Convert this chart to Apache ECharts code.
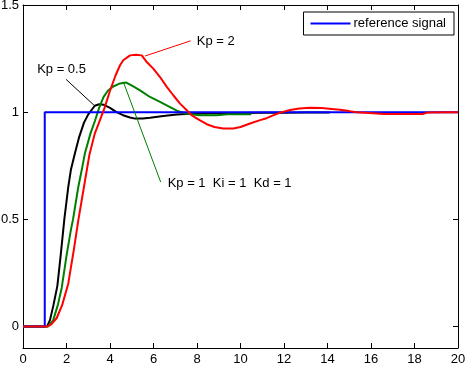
<!DOCTYPE html>
<html><head><meta charset="utf-8">
<script src="https://cdn.jsdelivr.net/npm/echarts@6/dist/echarts.min.js"></script>
<style>html,body{margin:0;padding:0;background:#fff}#c{width:466px;height:366px}</style>
</head><body><div id="c"></div>
<script>
// ---- data ----
const xTicks = [0, 2, 4, 6, 8, 10, 12, 14, 16, 18, 20];
const yTicks = [0, 0.5, 1, 1.5];

const refT = [0, 1, 1, 20];
const refY = [0, 0, 1, 1];

const kp05T = [0, 1, 1.1, 1.24, 1.4, 1.58, 1.73, 1.9, 2.08, 2.2, 2.39, 2.57, 2.8, 3.0, 3.3, 3.5, 3.7, 4.0, 4.3, 4.6, 4.92, 5.15, 5.5, 5.84, 6.45, 7.07, 7.68, 8.3, 9, 10, 11, 12, 13, 14.1];
const kp05Y = [0, 0, 0, 0.03, 0.1, 0.19, 0.33, 0.5, 0.65, 0.73, 0.81, 0.88, 0.95, 0.99, 1.03, 1.037, 1.035, 1.02, 1.0, 0.986, 0.975, 0.97, 0.971, 0.974, 0.982, 0.989, 0.993, 0.994, 0.995, 0.996, 0.997, 0.997, 0.998, 0.998];

const pidT = [0, 1, 1.15, 1.39, 1.6, 1.78, 2.0, 2.2, 2.3, 2.54, 2.7, 2.85, 3.1, 3.31, 3.5, 3.7, 3.9, 4.15, 4.46, 4.75, 5.07, 5.38, 5.84, 6.3, 6.76, 7.14, 7.53, 8.14, 8.9, 9.4, 10.0, 10.5];
const pidY = [0, 0, 0, 0.03, 0.1, 0.18, 0.33, 0.45, 0.5, 0.65, 0.73, 0.81, 0.9, 0.96, 1.02, 1.07, 1.1, 1.12, 1.134, 1.138, 1.12, 1.102, 1.071, 1.048, 1.024, 1.004, 0.993, 0.986, 0.986, 0.99, 0.99, 0.99];

const kp2T = [0, 1, 1.1, 1.3, 1.55, 1.8, 2.08, 2.34, 2.55, 2.8, 3.05, 3.3, 3.49, 3.75, 4.0, 4.25, 4.46, 4.61, 4.92, 5.2, 5.46, 5.69, 5.99, 6.3, 6.61, 6.91, 7.22, 7.53, 7.76, 8.14, 8.45, 8.8, 9.2, 9.67, 10.0, 10.44, 10.9, 11.2, 11.5, 11.82, 12.28, 12.7, 13.2, 13.73, 14.2, 14.57, 15.0, 15.34, 16.1, 16.6, 18.4, 18.6, 20];
const kp2Y = [0, 0, 0, 0.01, 0.04, 0.1, 0.2, 0.36, 0.5, 0.65, 0.8, 0.9, 0.95, 1.02, 1.1, 1.17, 1.219, 1.242, 1.265, 1.268, 1.265, 1.234, 1.203, 1.164, 1.118, 1.079, 1.04, 1.009, 0.985, 0.962, 0.944, 0.931, 0.924, 0.924, 0.931, 0.947, 0.963, 0.972, 0.985, 0.998, 1.01, 1.017, 1.021, 1.02, 1.015, 1.011, 1.005, 1.0, 0.995, 0.992, 0.992, 0.998, 1.0];

// annotations: text, text anchor [t,y], pointer from [t,y] to [t,y], colour
const annoText = ['Kp = 0.5', 'Kp = 2', 'Kp = 1  Ki = 1  Kd = 1'];
const annoPos = [[0.65, 1.201], [7.99, 1.328], [6.65, 0.668]];
const annoFrom = [[1.98, 1.153], [7.71, 1.333], [4.61, 1.142]];
const annoTo = [[3.26, 1.033], [5.61, 1.262], [6.33, 0.674]];
const annoColor = ['#000000', '#ff0000', '#008000'];

// ---- chart ----
const zip = (a, b) => a.map((v, i) => [v, b[i]]);
const FONT = '"Liberation Sans", Arial, Helvetica, sans-serif';
const chart = echarts.init(document.getElementById('c'), null, {renderer: 'canvas'});

const axisCommon = {
  axisLine: {show: true, onZero: false, lineStyle: {color: '#000', width: 1}},
  axisTick: {show: true, inside: true, length: 5, lineStyle: {color: '#000', width: 1}},
  splitLine: {show: false},
};

const lineSeries = (name, t, y, color) => ({
  name, type: 'line', data: zip(t, y), showSymbol: false, symbol: 'none',
  lineStyle: {color, width: 2}, itemStyle: {color}, animation: false,
  xAxisIndex: 0, yAxisIndex: 0
});

chart.setOption({
  animation: false,
  backgroundColor: '#fff',
  textStyle: {fontFamily: FONT, fontSize: 13, color: '#000'},
  grid: {left: 23, right: 8, top: 5, bottom: 18, containLabel: false, outerBoundsMode: 'none'},
  legend: {
    data: ['reference signal'],
    right: 12, top: 12,
    orient: 'vertical',
    borderColor: '#000', borderWidth: 1, borderRadius: 0,
    padding: [5, 8, 5, 7],
    icon: 'rect', itemWidth: 40, itemHeight: 2, itemGap: 0,
    textStyle: {fontFamily: FONT, fontSize: 13, color: '#000', padding: [0, 0, 0, -2]},
    backgroundColor: '#fff'
  },
  xAxis: [
    Object.assign({type: 'value', position: 'bottom', min: 0, max: 20, interval: 2,
      axisLabel: {show: true, margin: 5, fontFamily: FONT, fontSize: 13, color: '#000',
        customValues: xTicks}}, axisCommon, {axisTick: Object.assign({}, axisCommon.axisTick, {customValues: xTicks})}),
    Object.assign({type: 'value', position: 'top', min: 0, max: 20, interval: 2,
      axisLabel: {show: false}}, axisCommon, {axisTick: Object.assign({}, axisCommon.axisTick, {customValues: xTicks})})
  ],
  yAxis: [
    Object.assign({type: 'value', position: 'left', min: -0.1, max: 1.5,
      axisLabel: {show: true, margin: 4, fontFamily: FONT, fontSize: 13, color: '#000',
        customValues: yTicks, formatter: v => String(v)}}, axisCommon,
      {axisTick: Object.assign({}, axisCommon.axisTick, {customValues: yTicks})}),
    Object.assign({type: 'value', position: 'right', min: -0.1, max: 1.5,
      axisLabel: {show: false}}, axisCommon,
      {axisTick: Object.assign({}, axisCommon.axisTick, {customValues: yTicks})})
  ],
  series: [
    lineSeries('Kp = 0.5', kp05T, kp05Y, '#000000'),
    lineSeries('Kp = 1  Ki = 1  Kd = 1', pidT, pidY, '#008000'),
    lineSeries('reference signal', refT, refY, '#0000ff'),
    lineSeries('Kp = 2', kp2T, kp2Y, '#ff0000')
  ]
});

const px = p => chart.convertToPixel({xAxisIndex: 0, yAxisIndex: 0}, p);
const graphics = [];
annoText.forEach((txt, i) => {
  const a = px(annoFrom[i]), b = px(annoTo[i]), t = px(annoPos[i]);
  graphics.push({type: 'line', silent: true, z: 10,
    shape: {x1: a[0], y1: a[1], x2: b[0], y2: b[1]},
    style: {stroke: annoColor[i], lineWidth: 1}});
  graphics.push({type: 'text', silent: true, z: 10, x: t[0], y: t[1],
    style: {text: txt, font: '13px ' + FONT, fill: '#000', textAlign: 'left', textVerticalAlign: 'middle'}});
});
chart.setOption({graphic: graphics});
</script>
</body></html>
